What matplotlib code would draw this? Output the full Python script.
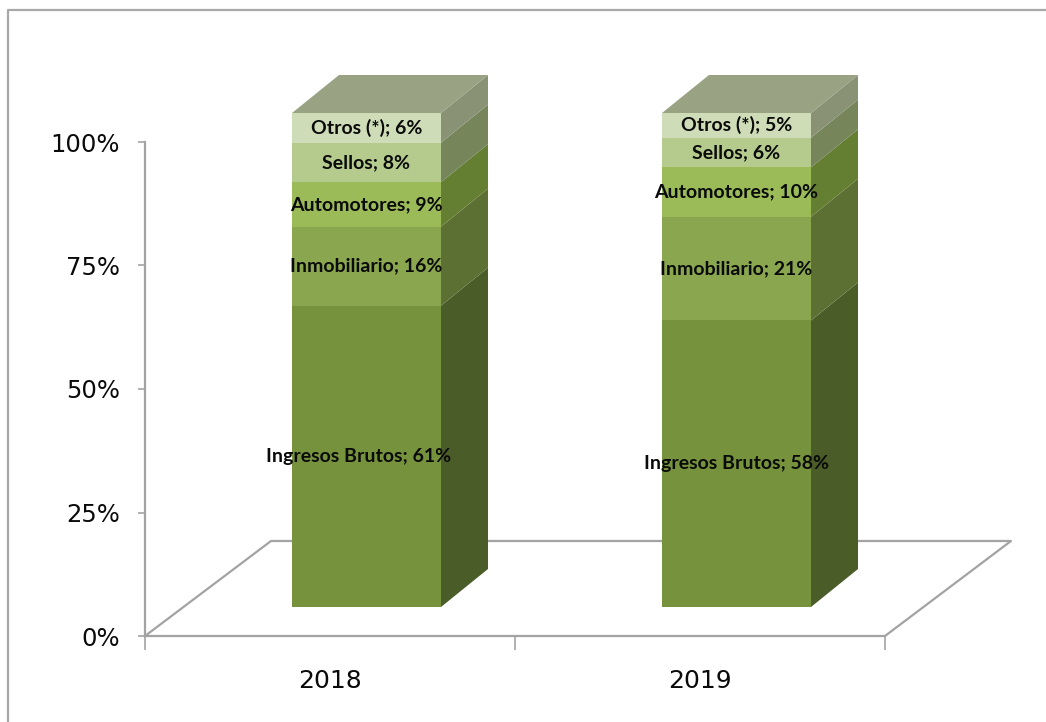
import numpy as np
import matplotlib.pyplot as plt
from matplotlib.lines import Line2D

# data
years = ["2018", "2019"]
names = ["Ingresos Brutos", "Inmobiliario", "Automotores", "Sellos", "Otros (*)"]
values_2018 = [61, 16, 9, 8, 6]
values_2019 = [58, 21, 10, 6, 5]
y_ticks = [0, 25, 50, 75, 100]

# colours, bottom to top
front_colors = ["#76923c", "#8aa64f", "#9bbb59", "#b5cb8e", "#cfdcb8"]
side_colors = ["#4a5c28", "#5c7033", "#647e32", "#76855a", "#8a9275"]
top_color = "#9aa284"
line_color = "#a3a3a3"

# pixel size of one data unit, the fake 3d is laid out in pixels
W, H = 1046, 722
px_x = 2 / 740
px_y = 100 / 494

fig = plt.figure(figsize=(W / 100, H / 100), dpi=100, facecolor="white")
ax = fig.add_axes([145 / W, (H - 636) / H, 740 / W, 494 / H])
ax.set_xlim(0, 2)
ax.set_ylim(0, 100)
ax.patch.set_visible(False)

# floor
floor_dx = 126 * px_x
floor_dy = 95 * px_y
ax.plot([0, floor_dx, 2 + floor_dx, 2], [0, floor_dy, floor_dy, 0],
        color=line_color, lw=1.6, clip_on=False, zorder=1)

# bars
shift_x = 36.5 * px_x
shift_y = 29 * px_y
depth_x = 47 * px_x
depth_y = 38 * px_y
bar_w = 149 * px_x

for i, vals in enumerate([values_2018, values_2019]):
    left = i + 0.5 + shift_x - bar_w / 2
    right = left + bar_w
    bottom = shift_y
    for j, v in enumerate(vals):
        ax.bar(left, v, width=bar_w, bottom=bottom, align="edge",
               color=front_colors[j], clip_on=False, zorder=3)
        ax.fill([right, right + depth_x, right + depth_x, right],
                [bottom, bottom + depth_y, bottom + v + depth_y, bottom + v],
                color=side_colors[j], lw=0, clip_on=False, zorder=3)
        nudge = -8 * px_x if (i == 0 and j == 0) else 0
        ax.text((left + right) / 2 + nudge, bottom + v / 2,
                f"{names[j]}; {v}%", ha="center", va="center",
                family="Lato", fontweight="bold", fontsize=14,
                color="#0a0a0a", zorder=5, clip_on=False)
        bottom += v
    ax.fill([left, right, right + depth_x, left + depth_x],
            [bottom, bottom, bottom + depth_y, bottom + depth_y],
            color=top_color, lw=0, clip_on=False, zorder=3)

# axes
for s in ["top", "right"]:
    ax.spines[s].set_visible(False)
for s in ["left", "bottom"]:
    ax.spines[s].set_color(line_color)
    ax.spines[s].set_linewidth(1.6)
ax.set_yticks(y_ticks)
ax.set_yticklabels([f"{t}%" for t in y_ticks], fontsize=17.5, color="#0a0a0a")
ax.set_xticks([0, 1, 2])
ax.set_xticklabels([])
ax.set_xticks([0.5, 1.5], minor=True)
ax.set_xticklabels(years, minor=True, fontsize=18, color="#0a0a0a")
ax.tick_params(axis="y", length=5, width=1.2, color=line_color, pad=13)
ax.tick_params(axis="x", which="major", length=10, width=1.2, color=line_color)
ax.tick_params(axis="x", which="minor", length=0, pad=24)

# chart border, only top and left are inside the picture
fig.add_artist(Line2D([8 / W, 8 / W, 1], [0, (H - 10) / H, (H - 10) / H],
                      color="#a8a8a8", lw=1.6))

fig.savefig("out.png", dpi=100)
